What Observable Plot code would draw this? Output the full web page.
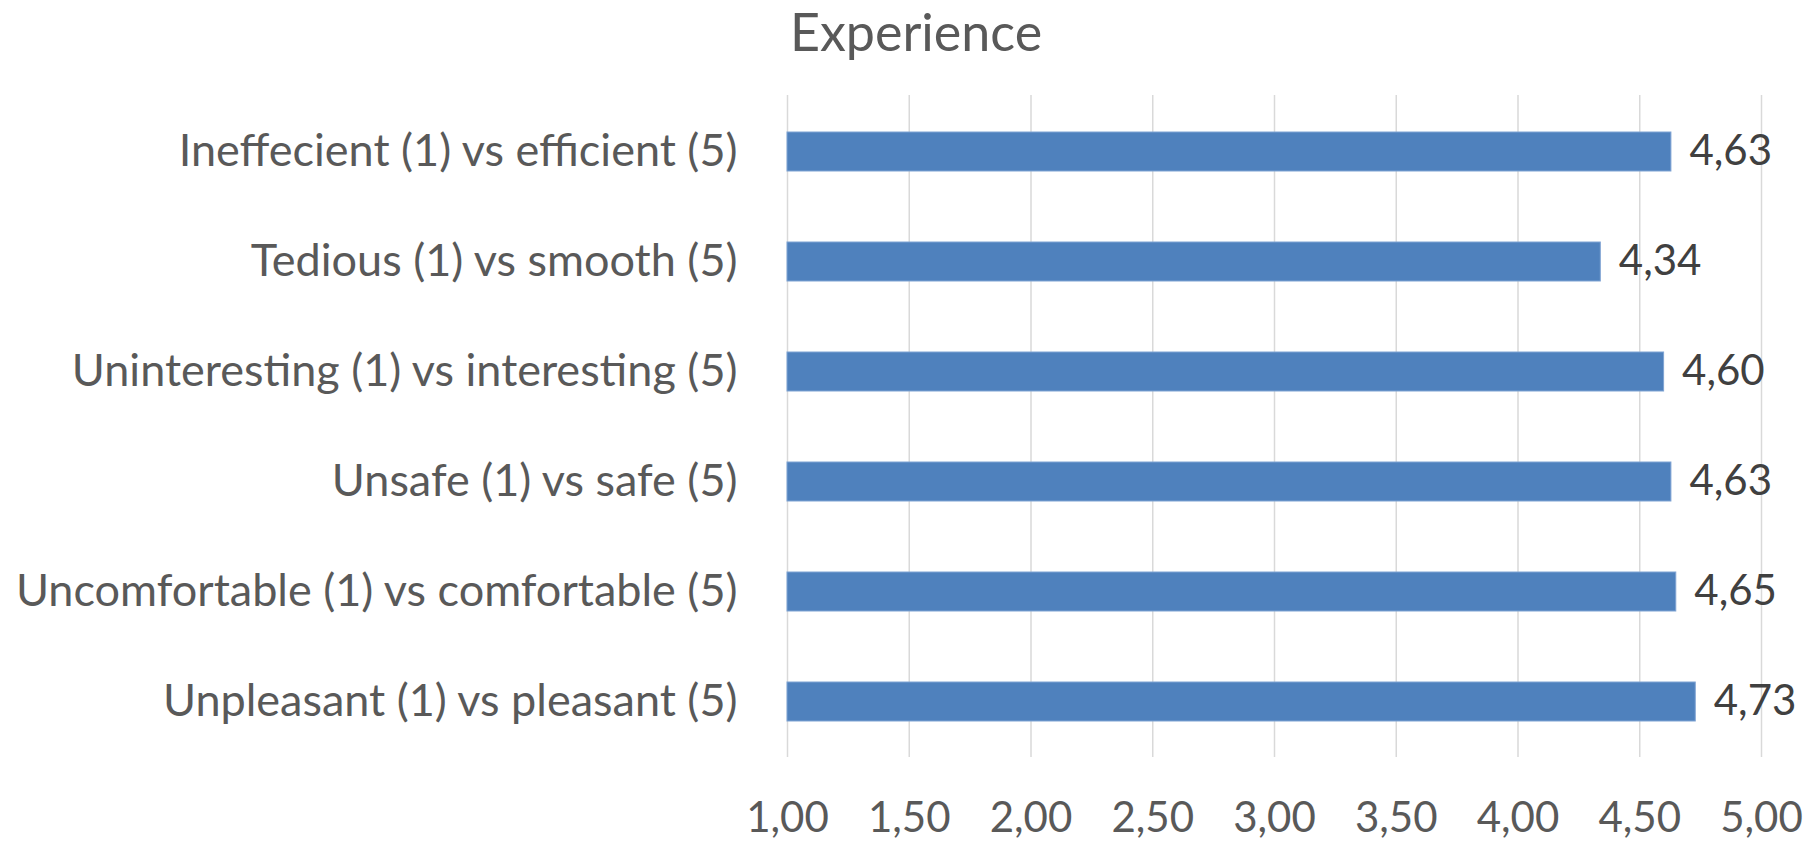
<!DOCTYPE html>
<html>
<head>
<meta charset="utf-8">
<script src="https://cdn.jsdelivr.net/npm/d3@7"></script>
<script src="https://cdn.jsdelivr.net/npm/@observablehq/plot@0.6"></script>
<style>
  html, body { margin: 0; padding: 0; background: #ffffff; }
  body { width: 1814px; height: 843px; position: relative; overflow: hidden; font-family: Lato, "Open Sans", sans-serif; }
  #title {
    position: relative;
    height: 80px;
  }
  #title span {
    position: absolute;
    left: 916px;
    top: 0;
    transform: translateX(-50%);
    font-size: 52px;
    line-height: 62px;
    color: #595959;
    white-space: nowrap;
  }
  #chart svg { display: block; }
</style>
</head>
<body>
<div id="title"><span>Experience</span></div>
<div id="chart"></div>
<script>
// Survey items (top to bottom) and their mean scores on a 1–5 scale
const items = [
  "Ineffecient (1) vs efficient (5)",
  "Tedious (1) vs smooth (5)",
  "Uninteresting (1) vs interesting (5)",
  "Unsafe (1) vs safe (5)",
  "Uncomfortable (1) vs comfortable (5)",
  "Unpleasant (1) vs pleasant (5)"
];
const scores = [4.63, 4.34, 4.60, 4.63, 4.65, 4.73];

// Value axis
const xDomain = [1, 5];
const xTicks = [1, 1.5, 2, 2.5, 3, 3.5, 4, 4.5, 5];

const data = items.map((label, i) => ({label, value: scores[i]}));
const fmt = d => d.toFixed(2).replace(".", ",");

const chart = Plot.plot({
  width: 1814,
  height: 763,
  marginTop: 15,
  marginBottom: 86,
  marginLeft: 787,
  marginRight: 53,
  style: {fontFamily: "Lato, 'Open Sans', sans-serif", fontSize: "45px", color: "#595959", background: "#ffffff"},
  x: {domain: xDomain},
  y: {domain: items, paddingInner: 0.647, paddingOuter: 0.3235},
  marks: [
    Plot.ruleX(xTicks, {stroke: "#d9d9d9", strokeWidth: 1.5}),
    Plot.barX(data, {
      x1: () => xDomain[0],
      x2: "value",
      y: "label",
      fill: "#4f81bd",
      stroke: "#7fa3d3",
      strokeWidth: 1
    }),
    Plot.text(data, {
      x: "value",
      y: "label",
      text: d => fmt(d.value),
      dx: 18,
      textAnchor: "start",
      fill: "#404040",
      fontSize: 42
    }),
    Plot.axisX({ticks: xTicks, tickSize: 0, tickPadding: 45, tickFormat: fmt, label: null, fontSize: 42}),
    Plot.axisY({tickSize: 0, tickPadding: 50, label: null, fontSize: 45})
  ]
});
document.getElementById("chart").appendChild(chart);
</script>
</body>
</html>
